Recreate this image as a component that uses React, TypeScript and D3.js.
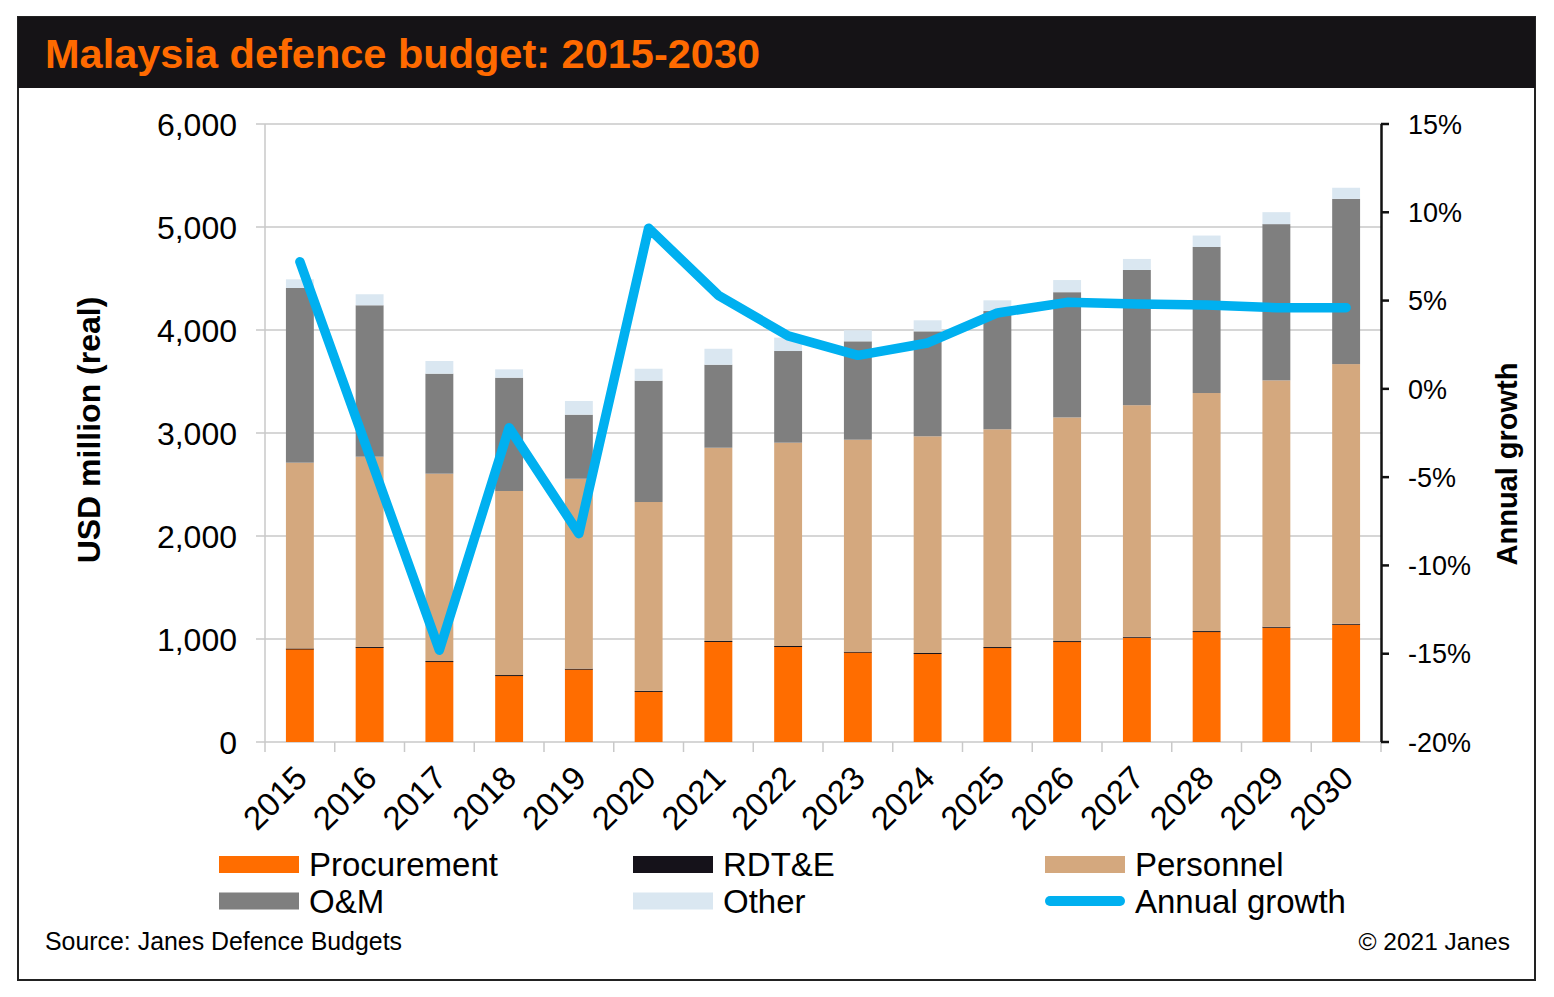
import React, { useEffect, useRef } from "react";
import * as d3 from "d3";

// budget components, USD million (real)
const years = ["2015","2016","2017","2018","2019","2020","2021","2022","2023","2024","2025","2026","2027","2028","2029","2030"];
const procurement = [905, 920, 780, 644, 706, 490, 975, 926, 871, 858, 915, 972, 1014, 1069, 1111, 1140];
const rdte = [3, 3, 6, 6, 6, 6, 6, 6, 6, 6, 7, 8, 8, 8, 8, 8];
const personnel = [1804, 1847, 1819, 1787, 1844, 1834, 1876, 1974, 2058, 2104, 2114, 2171, 2248, 2311, 2392, 2521];
const om = [1696, 1470, 971, 1100, 622, 1178, 806, 890, 955, 1019, 1148, 1216, 1313, 1418, 1517, 1604];
const other = [84, 107, 123, 81, 133, 116, 155, 130, 107, 107, 104, 118, 107, 111, 116, 108];
// annual growth, %
const growth = [7.2, -3.8, -14.8, -2.2, -8.2, 9.1, 5.3, 3.0, 1.9, 2.6, 4.3, 4.9, 4.8, 4.75, 4.6, 4.6];

const leftTicks = [0, 1000, 2000, 3000, 4000, 5000, 6000];
const rightTicks = [-20, -15, -10, -5, 0, 5, 10, 15];

const seriesKeys = ["Procurement", "RDT&E", "Personnel", "O&M", "Other"];
const seriesColors = ["#ff6d00", "#15121a", "#d4a87e", "#7f7f7f", "#dae7f1"];
const lineColor = "#00b0f0";

const FONT = "'Liberation Sans', Arial, sans-serif";

function App() {
  const svgRef = useRef<SVGSVGElement>(null);

  useEffect(() => {
    const W = 1554, H = 997;
    const left = 265, right = 1381, top = 124, bottom = 742;

    const svg = d3.select(svgRef.current)
      .attr("width", W)
      .attr("height", H)
      .style("position", "absolute")
      .style("left", "0px")
      .style("top", "0px")
      .style("background", "#fff")
      .style("font-family", FONT);
    svg.selectAll("*").remove();

    // frame + header
    svg.append("rect").attr("x", 18).attr("y", 17).attr("width", 1517).attr("height", 963)
      .attr("fill", "#fff").attr("stroke", "#222").attr("stroke-width", 2);
    svg.append("rect").attr("x", 18).attr("y", 17).attr("width", 1517).attr("height", 71).attr("fill", "#151316");
    svg.append("text").attr("x", 45).attr("y", 68)
      .attr("fill", "#ff6a00").attr("font-size", 41.5).attr("font-weight", "bold")
      .text("Malaysia defence budget: 2015-2030");

    const x = d3.scaleBand().domain(years).range([left, right]).paddingInner(0.6).paddingOuter(0.3);
    const y = d3.scaleLinear().domain([0, 6000]).range([bottom, top]);
    const yR = d3.scaleLinear().domain([-20, 15]).range([bottom, top]);

    // gridlines
    svg.append("g").selectAll("line").data(leftTicks).join("line")
      .attr("x1", 256).attr("x2", right)
      .attr("y1", d => y(d)).attr("y2", d => y(d))
      .attr("stroke", "#c9c9c9").attr("stroke-width", 1.5);
    svg.append("line").attr("x1", left).attr("x2", left).attr("y1", top).attr("y2", bottom)
      .attr("stroke", "#c9c9c9").attr("stroke-width", 1.5);

    // category ticks
    const step = x.step();
    svg.append("g").selectAll("line").data(d3.range(years.length + 1)).join("line")
      .attr("x1", i => left + i * step).attr("x2", i => left + i * step)
      .attr("y1", bottom).attr("y2", bottom + 10)
      .attr("stroke", "#c9c9c9").attr("stroke-width", 1.5);

    // stacked bars
    const table = years.map((yr, i) => ({
      year: yr,
      "Procurement": procurement[i],
      "RDT&E": rdte[i],
      "Personnel": personnel[i],
      "O&M": om[i],
      "Other": other[i],
    }));
    const stacked = d3.stack<any>().keys(seriesKeys)(table);
    svg.append("g").selectAll("g").data(stacked).join("g")
      .attr("fill", (_d, i) => seriesColors[i])
      .selectAll("rect").data(d => d).join("rect")
      .attr("x", d => x(d.data.year) as number)
      .attr("width", x.bandwidth())
      .attr("y", d => y(d[1]))
      .attr("height", d => Math.max(y(d[0]) - y(d[1]), 1));

    // left labels
    svg.append("g").selectAll("text").data(leftTicks).join("text")
      .attr("x", 237).attr("y", d => y(d)).attr("dy", "0.36em")
      .attr("text-anchor", "end").attr("font-size", 32).attr("fill", "#000")
      .text(d => d3.format(",")(d));

    // right axis
    svg.append("line").attr("x1", right + 0.5).attr("x2", right + 0.5).attr("y1", top).attr("y2", bottom)
      .attr("stroke", "#111").attr("stroke-width", 2.5);
    svg.append("g").selectAll("line").data(rightTicks).join("line")
      .attr("x1", right).attr("x2", right + 8)
      .attr("y1", d => yR(d)).attr("y2", d => yR(d))
      .attr("stroke", "#111").attr("stroke-width", 2.5);
    svg.append("g").selectAll("text").data(rightTicks).join("text")
      .attr("x", 1408).attr("y", d => yR(d)).attr("dy", "0.36em")
      .attr("font-size", 27).attr("fill", "#000")
      .text(d => d + "%");

    // x labels
    svg.append("g").selectAll("text").data(years).join("text")
      .attr("transform", d => `translate(${(x(d) as number) + x.bandwidth() / 2 + 9},${bottom + 38}) rotate(-45)`)
      .attr("text-anchor", "end").attr("font-size", 33).attr("fill", "#000")
      .text(d => d);

    // axis titles
    svg.append("text").attr("transform", `translate(100,430) rotate(-90)`)
      .attr("text-anchor", "middle").attr("font-size", 32).attr("font-weight", "bold")
      .text("USD million (real)");
    svg.append("text").attr("transform", `translate(1517,464) rotate(-90)`)
      .attr("text-anchor", "middle").attr("font-size", 29).attr("font-weight", "bold")
      .text("Annual growth");

    // growth line
    const line = d3.line<number>()
      .x((_d, i) => (x(years[i]) as number) + x.bandwidth() / 2)
      .y(d => yR(d));
    svg.append("path").datum(growth)
      .attr("d", line)
      .attr("fill", "none").attr("stroke", lineColor).attr("stroke-width", 9.5)
      .attr("stroke-linejoin", "round").attr("stroke-linecap", "round");

    // legend
    const legendItems = [
      { name: "Procurement", col: 0, row: 0, color: seriesColors[0], kind: "rect" },
      { name: "RDT&E", col: 1, row: 0, color: seriesColors[1], kind: "rect" },
      { name: "Personnel", col: 2, row: 0, color: seriesColors[2], kind: "rect" },
      { name: "O&M", col: 0, row: 1, color: seriesColors[3], kind: "rect" },
      { name: "Other", col: 1, row: 1, color: seriesColors[4], kind: "rect" },
      { name: "Annual growth", col: 2, row: 1, color: lineColor, kind: "line" },
    ];
    const colX = [219, 633, 1045];
    const rowY = [864.5, 901];
    const lg = svg.append("g");
    legendItems.forEach(it => {
      const cx = colX[it.col], cy = rowY[it.row];
      if (it.kind === "rect") {
        lg.append("rect").attr("x", cx).attr("y", cy - 8.5).attr("width", 80).attr("height", 17).attr("fill", it.color);
      } else {
        lg.append("line").attr("x1", cx + 5).attr("x2", cx + 75).attr("y1", cy).attr("y2", cy)
          .attr("stroke", it.color).attr("stroke-width", 10).attr("stroke-linecap", "round");
      }
      lg.append("text").attr("x", cx + 90).attr("y", cy + 11.5)
        .attr("font-size", 33).attr("fill", "#000").text(it.name);
    });

    // footer
    svg.append("text").attr("x", 45).attr("y", 950).attr("font-size", 24.9).attr("fill", "#000")
      .text("Source: Janes Defence Budgets");
    svg.append("text").attr("x", 1510).attr("y", 950).attr("text-anchor", "end")
      .attr("font-size", 24.5).attr("fill", "#000").text("\u00a9 2021 Janes");
  }, []);

  return (
    <div className="charts">
      <svg ref={svgRef}></svg>
    </div>
  );
}

export default App;
